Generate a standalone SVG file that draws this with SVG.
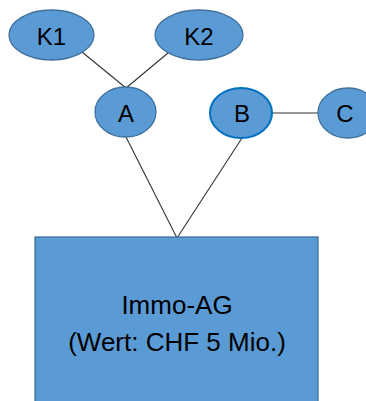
<svg xmlns="http://www.w3.org/2000/svg" width="366" height="401" viewBox="0 0 366 401">
<style>
.n{fill:#5B9BD5;stroke:#41719C;stroke-width:1.3}
.t{font-family:"Liberation Sans",Arial,sans-serif;font-size:24px;fill:#000;text-anchor:middle}
.c{stroke:#333;stroke-width:1.1;fill:none}
</style>
<rect width="366" height="401" fill="#fff"/>
<g id="connectors">
<line class="c" x1="82" y1="52" x2="126" y2="88"/>
<line class="c" x1="168" y1="53" x2="126" y2="88"/>
<line class="c" x1="272" y1="113" x2="318" y2="113"/>
<line class="c" x1="126" y1="137" x2="177" y2="238"/>
<line class="c" x1="242" y1="138" x2="177" y2="238"/>
</g>
<g id="K1"><ellipse class="n" cx="51.5" cy="35" rx="42.5" ry="25"/><text class="t" x="51.5" y="45">K1</text></g>
<g id="K2"><ellipse class="n" cx="199" cy="35" rx="44" ry="25"/><text class="t" x="199" y="45">K2</text></g>
<g id="A"><ellipse class="n" cx="125.5" cy="112" rx="30.5" ry="25"/><text class="t" x="126" y="122">A</text></g>
<g id="B"><ellipse class="n" cx="241" cy="113" rx="31" ry="25" style="stroke:#0070C0;stroke-width:2"/><text class="t" x="242" y="122">B</text></g>
<g id="C"><ellipse class="n" cx="348" cy="113" rx="30" ry="25"/><text class="t" x="345" y="122">C</text></g>
<g id="ImmoAG"><rect class="n" x="35" y="237" width="283" height="170"/>
<text class="t" style="font-size:26px" x="177" y="314">Immo-AG</text>
<text class="t" style="font-size:26px" x="177" y="351">(Wert: CHF 5 Mio.)</text></g>
</svg>
